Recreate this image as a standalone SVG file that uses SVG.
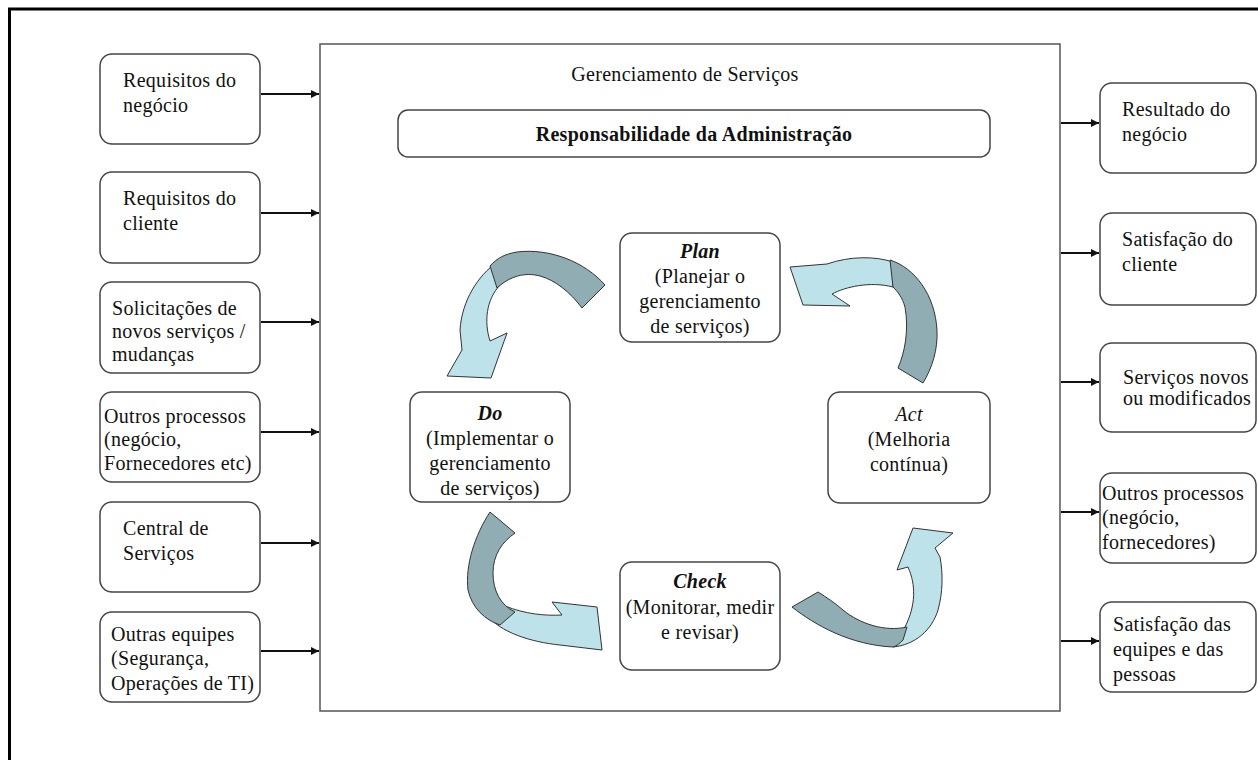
<svg xmlns="http://www.w3.org/2000/svg" width="1258" height="760" viewBox="0 0 1258 760">
<defs>
<style>
.box{fill:#fff;stroke:#454545;stroke-width:1.5}
.main{fill:#fff;stroke:#555;stroke-width:1.5}
.t{font-family:"Liberation Serif","Times New Roman",serif;font-size:20px;fill:#111;letter-spacing:0.3px}
.c{text-anchor:middle}
.b{font-weight:bold}
.bi{font-weight:bold;font-style:italic}
.it{font-style:italic}
.conn{stroke:#111;stroke-width:2;fill:none;marker-end:url(#ah)}
.lt{fill:#bde2ea;stroke:#333;stroke-width:1}
.dk{fill:#8fadb3;stroke:#333;stroke-width:1}
</style>
<marker id="ah" viewBox="0 0 10 10" refX="10" refY="5" markerWidth="10" markerHeight="8" markerUnits="userSpaceOnUse" orient="auto">
<path d="M0,0 L10,5 L0,10 Z" fill="#111"/>
</marker>
</defs>
<rect x="0" y="0" width="1258" height="760" fill="#fff"/>
<rect x="9.5" y="9" width="1300" height="800" fill="none" stroke="#000" stroke-width="3"/>

<g id="gerenciamento">
<rect class="main" x="320" y="44" width="740" height="667"/>
<text class="t c" x="685" y="81" font-size="21">Gerenciamento de Serviços</text>
</g>
<g id="responsabilidade">
<rect class="box" x="398" y="110" width="592" height="47" rx="10"/>
<text class="t c b" x="694" y="141">Responsabilidade da Administração</text>
</g>

<g id="in1"><rect class="box" x="100" y="54" width="160" height="90" rx="12"/>
<text class="t" x="123" y="87">Requisitos do</text><text class="t" x="123" y="112">negócio</text></g>
<g id="in2"><rect class="box" x="100" y="172" width="160" height="91" rx="12"/>
<text class="t" x="123" y="205">Requisitos do</text><text class="t" x="123" y="230">cliente</text></g>
<g id="in3"><rect class="box" x="100" y="282" width="160" height="91" rx="12"/>
<text class="t" x="112" y="315">Solicitações de</text><text class="t" x="112" y="338">novos serviços /</text><text class="t" x="112" y="361">mudanças</text></g>
<g id="in4"><rect class="box" x="100" y="392" width="160" height="90" rx="12"/>
<text class="t" x="104" y="423">Outros processos</text><text class="t" x="104" y="446">(negócio,</text><text class="t" x="104" y="470">Fornecedores etc)</text></g>
<g id="in5"><rect class="box" x="100" y="502" width="160" height="90" rx="12"/>
<text class="t" x="123" y="535">Central de</text><text class="t" x="123" y="560">Serviços</text></g>
<g id="in6"><rect class="box" x="100" y="612" width="160" height="90" rx="12"/>
<text class="t" x="111" y="641">Outras equipes</text><text class="t" x="111" y="665">(Segurança,</text><text class="t" x="111" y="690">Operações de TI)</text></g>

<g id="out1"><rect class="box" x="1100" y="83" width="156" height="90" rx="12"/>
<text class="t" x="1122" y="116">Resultado do</text><text class="t" x="1122" y="141">negócio</text></g>
<g id="out2"><rect class="box" x="1100" y="213" width="156" height="92" rx="12"/>
<text class="t" x="1122" y="246">Satisfação do</text><text class="t" x="1122" y="271">cliente</text></g>
<g id="out3"><rect class="box" x="1100" y="343" width="156" height="89" rx="12"/>
<text class="t" x="1123" y="384">Serviços novos</text><text class="t" x="1123" y="405">ou modificados</text></g>
<g id="out4"><rect class="box" x="1100" y="473" width="156" height="90" rx="12"/>
<text class="t" x="1102" y="500">Outros processos</text><text class="t" x="1102" y="524">(negócio,</text><text class="t" x="1102" y="549">fornecedores)</text></g>
<g id="out5"><rect class="box" x="1100" y="602" width="156" height="90" rx="12"/>
<text class="t" x="1113" y="631">Satisfação das</text><text class="t" x="1113" y="656">equipes e das</text><text class="t" x="1113" y="681">pessoas</text></g>

<g id="plan"><rect class="box" x="620" y="233" width="160" height="109" rx="12"/>
<text class="t c bi" x="700" y="258">Plan</text><text class="t c" x="700" y="283">(Planejar o</text><text class="t c" x="700" y="308">gerenciamento</text><text class="t c" x="700" y="333">de serviços)</text></g>
<g id="do"><rect class="box" x="410" y="392" width="160" height="110" rx="12"/>
<text class="t c bi" x="490" y="420">Do</text><text class="t c" x="490" y="445">(Implementar o</text><text class="t c" x="490" y="470">gerenciamento</text><text class="t c" x="490" y="495">de serviços)</text></g>
<g id="act"><rect class="box" x="828" y="392" width="162" height="111" rx="12"/>
<text class="t c it" x="909" y="421">Act</text><text class="t c" x="909" y="446">(Melhoria</text><text class="t c" x="909" y="471">contínua)</text></g>
<g id="check"><rect class="box" x="620" y="562" width="160" height="108" rx="12"/>
<text class="t c bi" x="700" y="588">Check</text><text class="t c" x="700" y="614">(Monitorar, medir</text><text class="t c" x="700" y="639">e revisar)</text></g>

<g id="connectors">
<line class="conn" x1="261" y1="94" x2="319" y2="94"/>
<line class="conn" x1="261" y1="213" x2="319" y2="213"/>
<line class="conn" x1="261" y1="322" x2="319" y2="322"/>
<line class="conn" x1="261" y1="432" x2="319" y2="432"/>
<line class="conn" x1="261" y1="543" x2="319" y2="543"/>
<line class="conn" x1="261" y1="651" x2="319" y2="651"/>
<line class="conn" x1="1061" y1="123" x2="1099" y2="123"/>
<line class="conn" x1="1061" y1="253" x2="1099" y2="253"/>
<line class="conn" x1="1061" y1="382" x2="1099" y2="382"/>
<line class="conn" x1="1061" y1="512" x2="1099" y2="512"/>
<line class="conn" x1="1061" y1="641" x2="1099" y2="641"/>
<g id="plan-do">
<path class="lt" d="M497,262 C478,276 462,300 460,330 L462,350 L447,376 L491,378 L507,333 L490,341 C484,322 486,300 500,285 Z"/>
<path class="dk" d="M490,266 C497,258 505,254 517,252 C550,248 585,262 605,285 L582,308 C570,292 555,280 540,276 C525,272 510,276 497,288 Z"/>
</g>
<g id="act-plan">
<path class="lt" d="M893,262 C875,256 850,256 827,264 L790,267 L803,305 L850,306 L832,294 C845,287 870,281 893,287 Z"/>
<path class="dk" d="M890,260 C915,268 935,295 937,330 C938,350 932,368 923,383 L898,368 C905,352 909,330 905,307 C902,297 898,292 893,287 Z"/>
</g>
<g id="do-check">
<path class="lt" d="M487,615 C500,632 530,642 560,645 L602,650 L597,607 L552,602 L562,615 C545,616 525,614 505,606 Z"/>
<path class="dk" d="M490,512 C475,535 465,565 468,590 C472,608 485,620 500,625 L515,612 C500,605 493,590 493,573 C493,555 502,542 515,533 Z"/>
</g>
<g id="check-act">
<path class="lt" d="M893,647 C915,645 932,630 938,610 C943,592 943,573 940,557 L935,548 L953,533 L913,528 L897,570 L908,567 C916,585 916,605 905,627 Z"/>
<path class="dk" d="M792,607 C815,625 850,645 893,647 C897,646 900,643 903,640 L907,627 C885,632 860,624 843,610 C835,603 826,597 818,592 Z"/>
</g>
</g>
</svg>
